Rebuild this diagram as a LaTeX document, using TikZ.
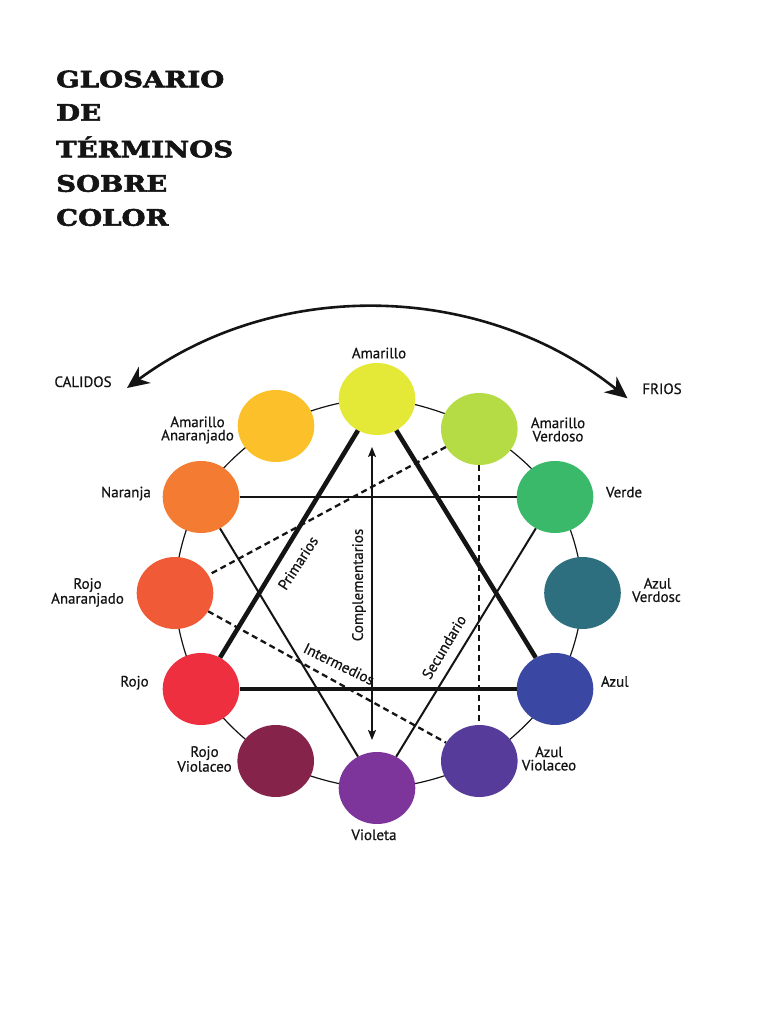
\documentclass[tikz,border=0pt]{standalone}
\usepackage{fontspec}
\setmainfont{PT Sans}
\newfontfamily\labfont[FakeBold=0.6]{PT Sans}
\newfontfamily\titlefont[FakeStretch=1.22, BoldFeatures={FakeBold=2.6}]{DejaVu Serif}
\usetikzlibrary{shapes.geometric,arrows.meta}
\definecolor{cAM}{RGB}{228,233,55}
\definecolor{cAA}{RGB}{251,192,42}
\definecolor{cAV}{RGB}{181,220,69}
\definecolor{cNA}{RGB}{244,123,50}
\definecolor{cVE}{RGB}{58,185,106}
\definecolor{cRA}{RGB}{241,90,54}
\definecolor{cAZV}{RGB}{45,111,126}
\definecolor{cRO}{RGB}{238,47,64}
\definecolor{cAZ}{RGB}{58,72,164}
\definecolor{cRV}{RGB}{133,35,74}
\definecolor{cAZVI}{RGB}{87,59,154}
\definecolor{cVI}{RGB}{125,53,156}
\definecolor{ink}{RGB}{20,20,20}
\begin{document}
\begin{tikzpicture}[x=1pt,y=-1pt,
  dot/.style={ellipse, minimum width=76.6pt, minimum height=72pt, inner sep=0pt, draw=none},
  lab/.style={font=\labfont\fontsize{15}{13.3}\selectfont, inner sep=0pt, align=center, text=ink},
  ttl/.style={font=\titlefont\bfseries\fontsize{22.6}{34.5}\selectfont, inner sep=0pt, anchor=base west, text=ink},
  wheel/.style={line width=1.2pt, ink},
  thickline/.style={line width=4.6pt, ink},
  thinline/.style={line width=2pt, ink},
  dashline/.style={line width=2.3pt, ink, dash pattern=on 6pt off 4pt},
  comparrow/.style={line width=1.4pt, ink, {Stealth[length=10pt,width=8pt,inset=2pt]}-{Stealth[length=10pt,width=8pt,inset=2pt]}},
  bigarrow/.style={line width=2.6pt, ink, {Stealth[length=22pt,width=20pt,inset=7pt]}-{Stealth[length=22pt,width=20pt,inset=7pt]}}
]
\useasboundingbox (0,0) rectangle (768,1024);
\fill[white] (0,0) rectangle (768,1024);

% title
\node[ttl] (t1) at (56,87.3) {GLOSARIO};
\node[ttl] (t2) at (56,120.7) {DE};
\node[ttl] (t3) at (56,157.3) {TÉRMINOS};
\node[ttl] (t4) at (56,191.7) {SOBRE};
\node[ttl] (t5) at (56,225.7) {COLOR};

% positions of the colour wheel
\coordinate (pAM) at (377,399);
\coordinate (pAV) at (479.3,429);
\coordinate (pVE) at (555,497);
\coordinate (pAZV) at (582.5,593);
\coordinate (pAZ) at (555,689);
\coordinate (pAZVI) at (479.3,761);
\coordinate (pVI) at (377,788);
\coordinate (pRV) at (275.7,761);
\coordinate (pRO) at (201,689);
\coordinate (pRA) at (175,593);
\coordinate (pNA) at (201,497);
\coordinate (pAA) at (276,426);

\draw[wheel] plot[smooth cycle, tension=0.55] coordinates {(pAM) (pAV) (pVE) (pAZV) (pAZ) (pAZVI) (pVI) (pRV) (pRO) (pRA) (pNA) (pAA)};

\node[dot, fill=cAM] (AM) at (pAM) {};
\node[dot, fill=cAV] (AV) at (pAV) {};
\node[dot, fill=cVE] (VE) at (pVE) {};
\node[dot, fill=cAZV] (AZV) at (pAZV) {};
\node[dot, fill=cAZ] (AZ) at (pAZ) {};
\node[dot, fill=cAZVI] (AZVI) at (pAZVI) {};
\node[dot, fill=cVI] (VI) at (pVI) {};
\node[dot, fill=cRV] (RV) at (pRV) {};
\node[dot, fill=cRO] (RO) at (pRO) {};
\node[dot, fill=cRA] (RA) at (pRA) {};
\node[dot, fill=cNA] (NA) at (pNA) {};
\node[dot, fill=cAA] (AA) at (pAA) {};

% primary triangle
\draw[thickline] (AM) -- (RO);
\draw[thickline] (RO) -- (AZ);
\draw[thickline] (AZ) -- (AM);
% secondary triangle
\draw[thinline] (NA) -- (VE);
\draw[thinline] (NA) -- (VI);
\draw[thinline] (VE) -- (VI);
% intermediate triangle
\draw[dashline] (AV) -- (RA);
\draw[dashline] (RA) -- (AZVI);
\draw[dashline] (AV) -- (AZVI);

% complementary arrow
\coordinate (cT) at (372,447);
\coordinate (cB) at (372,740);
\draw[comparrow] (cB) -- (cT);

% rotated labels
\node[lab, rotate=57] (lPrim) at (298,563) {Primarios};
\node[lab, rotate=90] (lComp) at (359,585) {Complementarios};
\node[lab, rotate=59] (lSec) at (444,647) {Secundario};
\node[lab, rotate=-26] (lInt) at (339,664) {Intermedios};

% colour labels
\node[lab, anchor=base] (lAM) at (379,358.3) {Amarillo};
\node[lab] (lAA) at (197.5,430) {Amarillo\\Anaranjado};
\node[lab] (lAV) at (558,429.5) {Amarillo\\Verdoso};
\node[lab, anchor=base] (lNA) at (126,497.3) {Naranja};
\node[lab, anchor=base] (lVE) at (624,497.3) {Verde};
\node[lab] (lRA) at (87.5,592.5) {Rojo\\Anaranjado};
\node[lab, anchor=base] (lRO) at (134.5,686.5) {Rojo};
\node[lab, anchor=base] (lAZ) at (614.8,686.7) {Azul};
\node[lab] (lRV) at (204.5,759) {Rojo\\Violaceo};
\node[lab] (lAZVI) at (549,758.5) {Azul\\Violaceo};
\node[lab, anchor=base] (lVI) at (374,840) {Violeta};
\begin{scope}
\clip (0,0) rectangle (680,1024);
\node[lab] (lAZV) at (657.5,590) {Azul\\Verdoso};
\end{scope}

% warm / cold arrow
\node[lab, anchor=base] (cal) at (83,387) {CALIDOS};
\node[lab, anchor=base] (fri) at (662,394) {FRIOS};
\coordinate (aL) at (127,388);
\draw[bigarrow] (aL) arc[start angle=-126.45, end angle=-51.2, radius=410];
\end{tikzpicture}
\end{document}
